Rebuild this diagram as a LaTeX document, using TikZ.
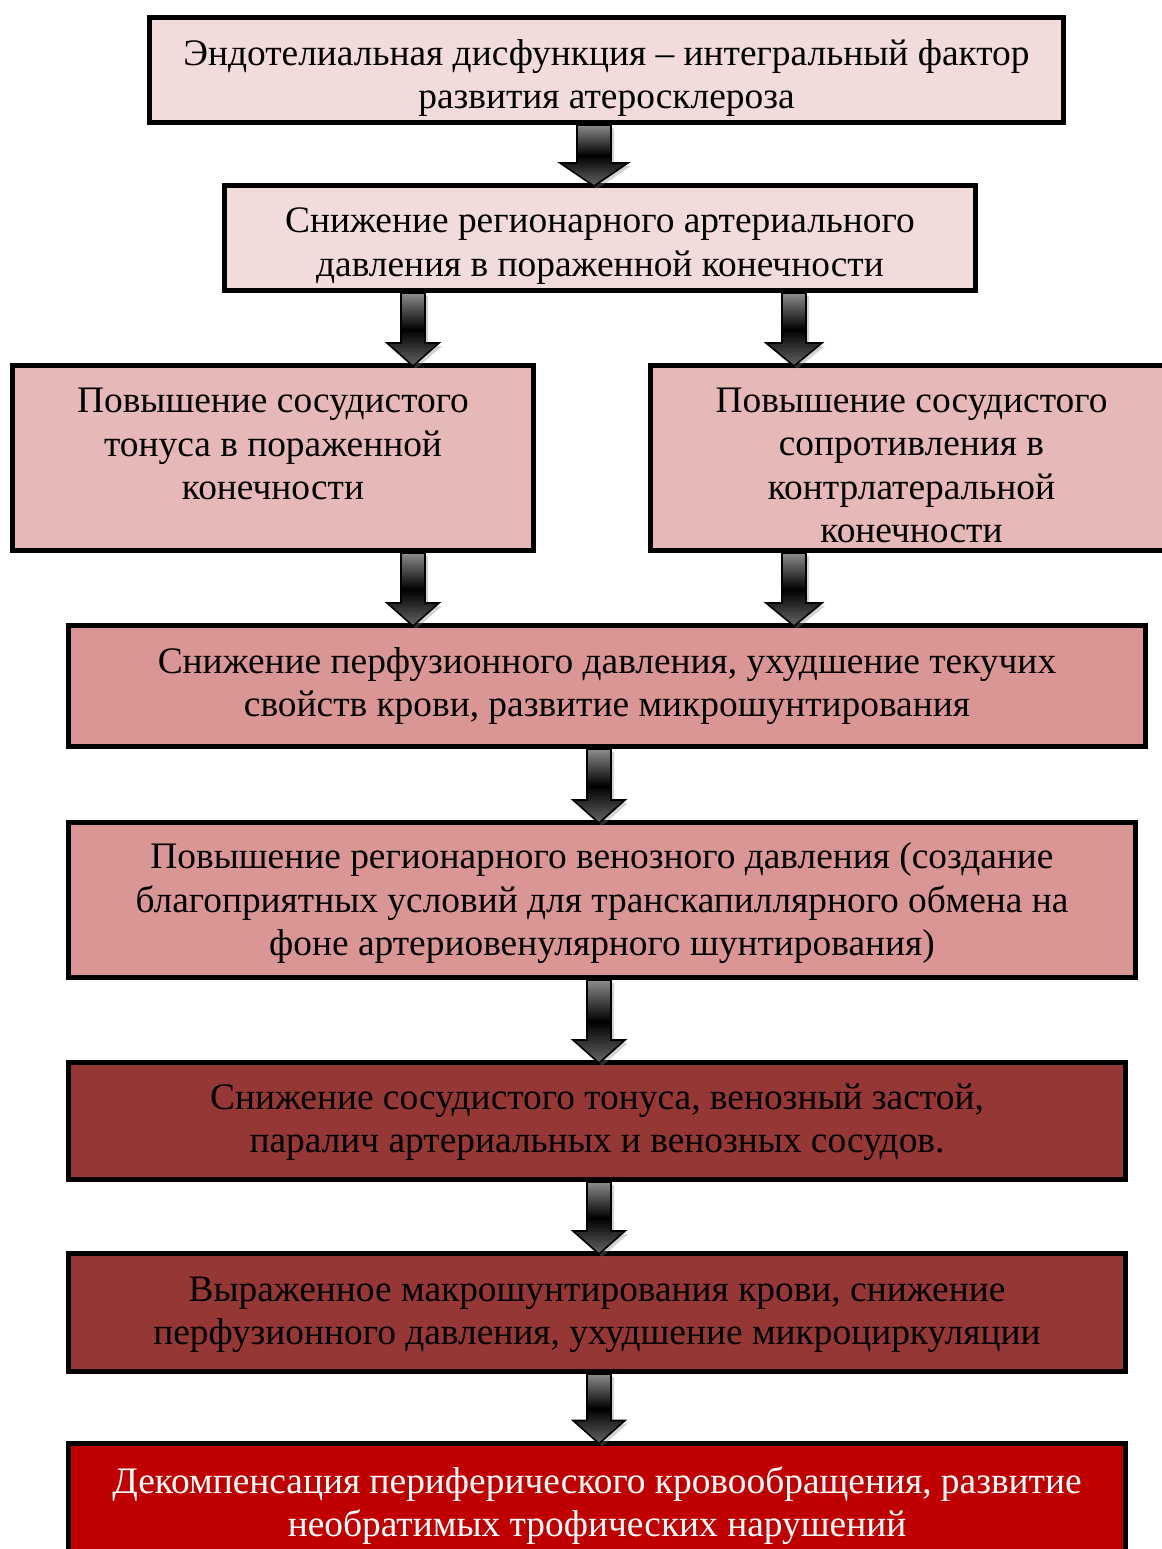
\documentclass[tikz,border=0pt]{standalone}
\usepackage{fontspec}
\setmainfont{Liberation Serif}
\usetikzlibrary{calc,shadows}

\definecolor{pinkA}{HTML}{F2DCDB}
\definecolor{pinkB}{HTML}{E6B8B7}
\definecolor{pinkC}{HTML}{DA9694}
\definecolor{brownred}{HTML}{953735}
\definecolor{darkred}{HTML}{C00000}

% block arrow: x, from node, to node, shaft half width, head half width
\newcommand{\blockarrow}[5]{%
  \draw[block arrow] let \p1=(#2.south), \p2=(#3.north), \p3=(#1,0) in
    (\x3-#4,\y1) -- (\x3+#4,\y1) -- (\x3+#4,\y2+10pt) -- (\x3+#5,\y2+10pt)
    -- (\x3,\y2-1.5pt) -- (\x3-#5,\y2+10pt) -- (\x3-#4,\y2+10pt) -- cycle;}

\begin{document}
\begin{tikzpicture}[x=0.5pt,y=-0.5pt,
    main node/.style={rectangle,draw=black,line width=2.5pt,align=center,inner sep=0pt,
                      text depth=0pt,font=\fontsize{18.7pt}{21.75pt}\selectfont},
    block arrow/.style={draw=black,line width=0.8pt,top color=gray!90,bottom color=gray!80!black,
                        middle color=black,
                        drop shadow={shadow xshift=1.5pt,shadow yshift=-1.5pt,opacity=.35}}]

  \useasboundingbox (0,0) rectangle (1162,1549);

  \node[main node,fill=pinkA,minimum width=457pt,minimum height=52.5pt,text height=38.5pt] (1) at (606.5,70)
    {Эндотелиальная дисфункция – интегральный фактор\\развития атеросклероза};
  \node[main node,fill=pinkA,minimum width=375.5pt,minimum height=52.5pt,text height=38pt] (2) at (600,238)
    {Снижение регионарного артериального\\давления в пораженной конечности};
  \node[main node,fill=pinkB,minimum width=260.5pt,minimum height=92.5pt,text height=41.5pt] (3a) at (273,458)
    {Повышение сосудистого\\тонуса в пораженной\\конечности};
  \node[main node,fill=pinkB,minimum width=261pt,minimum height=92.5pt,text height=84.5pt] (3b) at (911.5,458)
    {Повышение сосудистого\\сопротивления в\\контрлатеральной\\конечности};
  \node[main node,fill=pinkC,minimum width=538.5pt,minimum height=60.5pt,text height=30.5pt] (4) at (607,686)
    {Снижение перфузионного давления, ухудшение текучих\\свойств крови, развитие микрошунтирования};
  \node[main node,fill=pinkC,minimum width=533.5pt,minimum height=77.5pt,text height=55.5pt] (5) at (602,900)
    {Повышение регионарного венозного давления (создание\\благоприятных условий для транскапиллярного обмена на\\фоне артериовенулярного шунтирования)};
  \node[main node,fill=brownred,minimum width=528.5pt,minimum height=58.5pt,text height=31.5pt] (6) at (597,1121)
    {Снижение сосудистого тонуса, венозный застой,\\паралич артериальных и венозных сосудов.};
  \node[main node,fill=brownred,minimum width=528.5pt,minimum height=59pt,text height=32pt] (7) at (597,1312.5)
    {Выраженное макрошунтирования крови, снижение\\перфузионного давления, ухудшение микроциркуляции};
  \node[main node,fill=darkred,text=white,minimum width=528.5pt,minimum height=60pt,text height=33.5pt] (8) at (597,1503)
    {Декомпенсация периферического кровообращения, развитие\\необратимых трофических нарушений};

  \blockarrow{594}{1}{2}{8.5pt}{17pt}
  \blockarrow{413}{2}{3a}{6pt}{13pt}
  \blockarrow{794}{2}{3b}{6pt}{14pt}
  \blockarrow{413}{3a}{4}{6pt}{13pt}
  \blockarrow{794}{3b}{4}{6pt}{14pt}
  \blockarrow{599}{4}{5}{6pt}{13pt}
  \blockarrow{599}{5}{6}{6pt}{13pt}
  \blockarrow{599}{6}{7}{6pt}{13pt}
  \blockarrow{599}{7}{8}{6pt}{13pt}
\end{tikzpicture}
\end{document}
